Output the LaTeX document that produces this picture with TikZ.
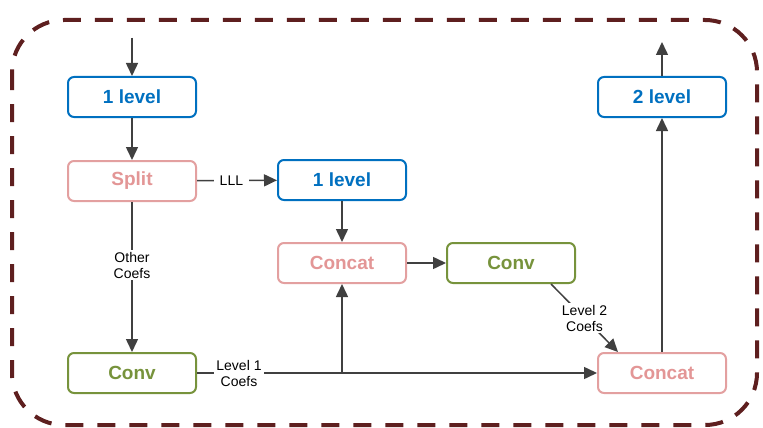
\documentclass[tikz,border=0pt]{standalone}
\usepackage{fontspec}
\setmainfont{Liberation Sans}
\usetikzlibrary{arrows.meta}
\definecolor{lvlblue}{HTML}{0070C0}
\definecolor{catpink}{HTML}{E3A0A0}
\definecolor{cattext}{HTML}{E39696}
\definecolor{convgreen}{HTML}{77933C}
\definecolor{edgegray}{HTML}{404040}
\definecolor{framered}{HTML}{5E1F1F}
\tikzset{
  box/.style={draw, rounded corners=6pt, line width=2pt, fill=white,
    minimum width=128pt, minimum height=40pt,
    font=\fontsize{19}{22}\selectfont\bfseries},
  lvlbox/.style={box, draw=lvlblue, text=lvlblue},
  catbox/.style={box, draw=catpink, text=cattext},
  convbox/.style={box, draw=convgreen, text=convgreen},
  arr/.style={draw=edgegray, line width=1.5pt,
    -{Triangle[length=13pt,width=12pt]}, fill=edgegray},
  lbl/.style={fill=white, text=black, align=center, inner sep=2pt,
    font=\fontsize{14}{16}\selectfont},
}
\begin{document}
\begin{tikzpicture}[x=1pt,y=-1pt]
  \useasboundingbox (0,0) rectangle (763,428);
  \draw[framered, line width=4pt, dash pattern=on 18pt off 14pt, rounded corners=52pt]
    (12,20) rectangle (757,425);

  \node[lvlbox]  (lvlA)    at (132,97)  {1 level};
  \node[lvlbox]  (lvlC)    at (662,97)  {2 level};
  \node[catbox]  (split)   at (132,181) {Split};
  \node[lvlbox]  (lvlB)    at (342,180) {1 level};
  \node[catbox]  (concatA) at (342,263) {Concat};
  \node[convbox] (convB)   at (511,263) {Conv};
  \node[convbox] (convA)   at (132,373) {Conv};
  \node[catbox]  (concatB) at (662,373) {Concat};

  \coordinate (in)  at (132,38);
  \coordinate (out) at (662,42);

  \draw[arr] (in) -- (lvlA);
  \draw[arr] (lvlA) -- (split);
  \draw[arr] (split) -- node[lbl, pos=0.43, inner xsep=6pt] {LLL} (lvlB);
  \draw[arr] (split) -- node[lbl, pos=0.42] {Other\\Coefs} (convA);
  \draw[arr] (lvlB) -- (concatA);
  \draw[arr] (concatA) -- (convB);
  \draw[arr] (convA) -- node[lbl, pos=0.105] {Level 1\\Coefs} (concatB);
  \draw[arr] (concatA |- convA) -- (concatA);
  \draw[arr] ([xshift=40pt]convB.south) -- node[lbl] {Level 2\\Coefs} ([xshift=-44pt]concatB.north);
  \draw[arr] (concatB) -- (lvlC);
  \draw[arr] (lvlC) -- (out);
\end{tikzpicture}
\end{document}
